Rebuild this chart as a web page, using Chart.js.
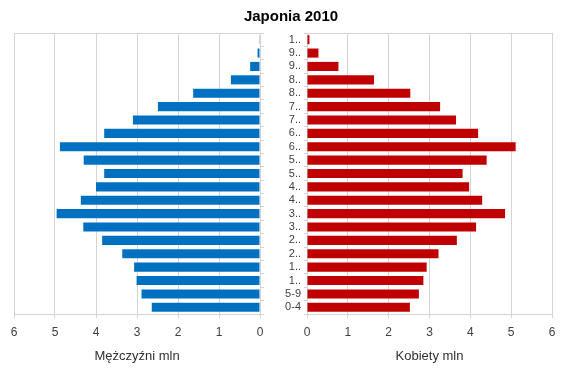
<!DOCTYPE html>
<html>
<head>
<meta charset="utf-8">
<script src="https://cdn.jsdelivr.net/npm/chart.js@4"></script>
<style>
    body { margin: 0; background: #fff; }
    #wrap { position: relative; width: 570px; height: 373px; }
    #wrap canvas { position: absolute; left: 0; top: 0; }
    #title {
        position: absolute; left: 0; top: 6px; width: 582px;
        text-align: center; font: bold 15px "Liberation Sans", Arial, sans-serif;
        line-height: 20px; color: #000;
    }
</style>
</head>
<body>
<div id="wrap">
    <canvas id="men" width="570" height="373"></canvas>
    <canvas id="women" width="570" height="373"></canvas>
    <div id="title">Japonia 2010</div>
</div>
<script>
// age groups, top row first
const ageGroups = ['100+', '95-99', '90-94', '85-89', '80-84', '75-79', '70-74', '65-69', '60-64', '55-59',
    '50-54', '45-49', '40-44', '35-39', '30-34', '25-29', '20-24', '15-19', '10-14', '5-9', '0-4'];
// millions
const men = [0.006, 0.06, 0.24, 0.71, 1.63, 2.49, 3.10, 3.80, 4.88, 4.30,
    3.80, 4.00, 4.37, 4.96, 4.31, 3.85, 3.36, 3.07, 3.01, 2.89, 2.64];
const women = [0.06, 0.28, 0.77, 1.64, 2.53, 3.26, 3.65, 4.19, 5.11, 4.40,
    3.81, 3.97, 4.29, 4.85, 4.14, 3.67, 3.22, 2.93, 2.85, 2.74, 2.52];
const xTicks = [0, 1, 2, 3, 4, 5, 6];
const menTitle = 'Mężczyźni mln';
const womenTitle = 'Kobiety mln';

const FONT = '"Liberation Sans", Arial, sans-serif';
const GRID = '#d4d4d4';

Chart.defaults.font.family = FONT;
Chart.defaults.color = '#404040';

// top edge of plot frame
const frameTop = {
    id: 'frameTop',
    afterDraw(chart) {
        const a = chart.chartArea;
        const ctx = chart.ctx;
        ctx.save();
        ctx.strokeStyle = GRID;
        ctx.lineWidth = 1;
        ctx.beginPath();
        ctx.moveTo(a.left, a.top + 0.5);
        ctx.lineTo(a.right, a.top + 0.5);
        ctx.stroke();
        ctx.restore();
    }
};

function xScale(reverse, title) {
    return {
        type: 'linear',
        min: 0, max: 6,
        reverse: reverse,
        afterBuildTicks: s => { s.ticks = xTicks.map(v => ({ value: v })); },
        afterFit: s => { s.height = 55; },
        grid: { color: GRID, tickLength: 4, tickColor: GRID },
        border: { color: GRID },
        ticks: { padding: 7, font: { size: 12 }, color: '#404040' },
        title: { display: true, text: title, font: { size: 13 }, color: '#303030', padding: { top: 0, bottom: 5 } }
    };
}

new Chart(document.getElementById('men'), {
    type: 'bar',
    data: {
        labels: ageGroups,
        datasets: [{ data: men, backgroundColor: '#0070C0', barPercentage: 0.68, categoryPercentage: 1 }]
    },
    options: {
        responsive: false,
        animation: false,
        indexAxis: 'y',
        layout: { padding: { left: 14, right: 304, top: 33, bottom: 4 } },
        plugins: { legend: { display: false }, tooltip: { enabled: false } },
        scales: {
            x: xScale(true, menTitle),
            y: {
                position: 'right',
                afterFit: s => { s.width = 6; },
                grid: { drawOnChartArea: false, tickLength: 4, tickColor: GRID },
                border: { color: GRID },
                ticks: { display: false }
            }
        }
    },
    plugins: [frameTop]
});

new Chart(document.getElementById('women'), {
    type: 'bar',
    data: {
        labels: ageGroups,
        datasets: [{ data: women, backgroundColor: '#C00000', barPercentage: 0.68, categoryPercentage: 1 }]
    },
    options: {
        responsive: false,
        animation: false,
        indexAxis: 'y',
        layout: { padding: { left: 267, right: 18, top: 33, bottom: 4 } },
        plugins: { legend: { display: false }, tooltip: { enabled: false } },
        scales: {
            x: xScale(false, womenTitle),
            y: {
                position: 'left',
                afterFit: s => { s.width = 40; },
                grid: { drawOnChartArea: false, tickLength: 3, tickColor: GRID },
                border: { color: GRID },
                ticks: {
                    padding: 3,
                    autoSkip: false,
                    font: { size: 11 },
                    color: '#404040',
                    callback: function (v) {
                        const s = this.getLabelForValue(v);
                        return s.length > 3 ? s[0] + '..' : s;
                    }
                }
            }
        }
    },
    plugins: [frameTop]
});
</script>
</body>
</html>
